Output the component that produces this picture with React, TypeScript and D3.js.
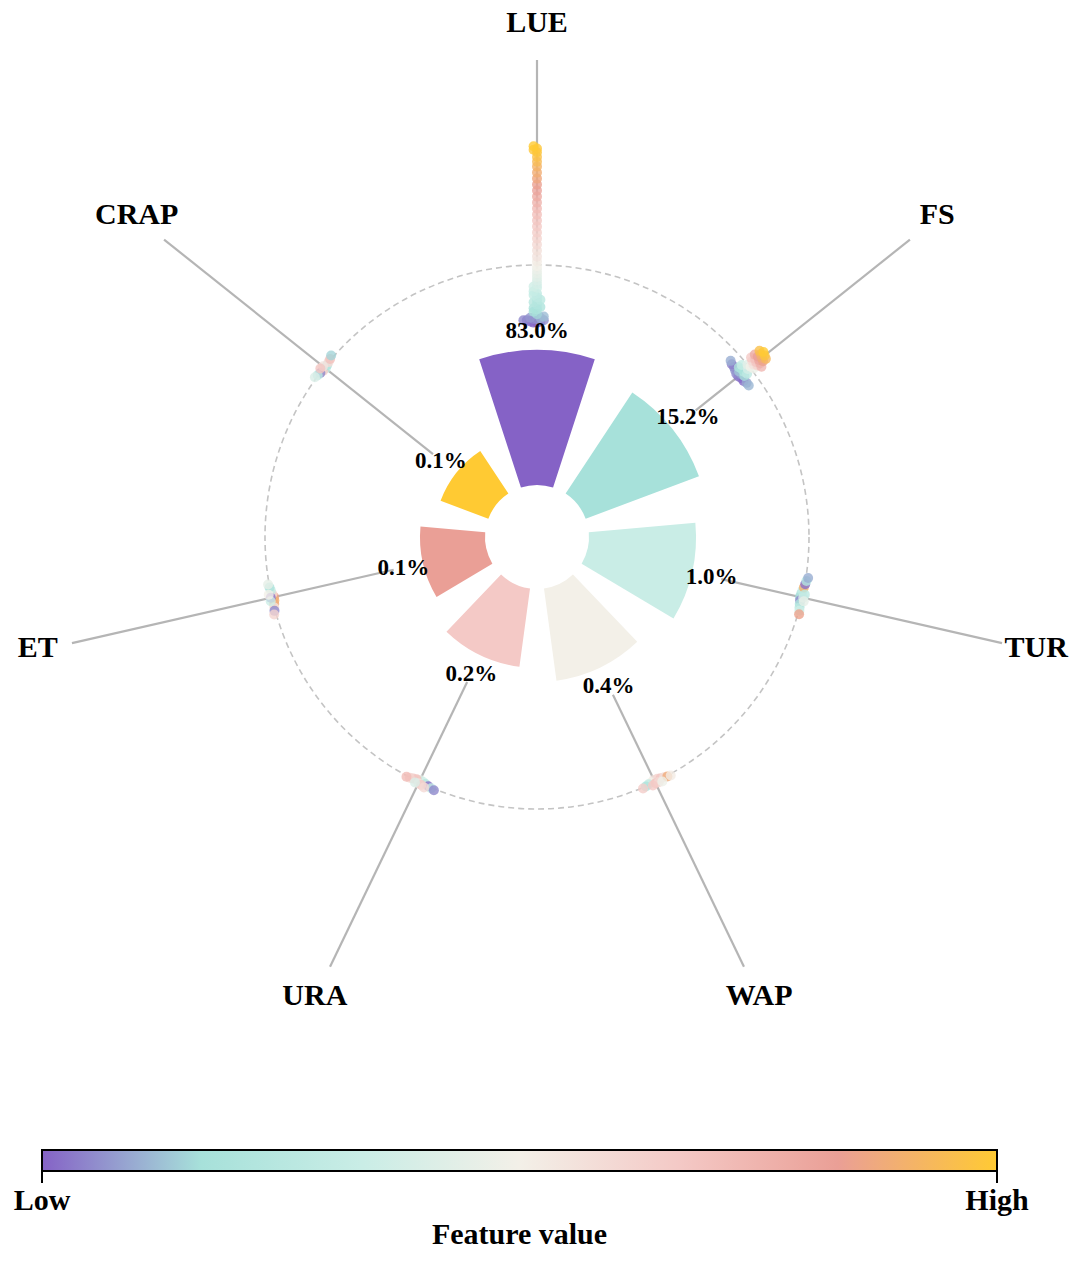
import * as d3 from 'd3';
import React, { useEffect, useRef } from 'react';

// features in importance order, clockwise from the top
const features = ['LUE', 'FS', 'TUR', 'WAP', 'URA', 'ET', 'CRAP'];
const importance = [83.0, 15.2, 1.0, 0.4, 0.2, 0.1, 0.1];
const palette = ['#8562c6', '#a7e1da', '#c9ede6', '#f3f0e8', '#f4c9c6', '#ea9f96', '#ffca33'];

// SHAP value, feature value (0 = low, 1 = high)
const shapLUE: [number, number][] = [
  [-0.48, 0.02], [-0.48, 0.0], [-0.47, 0.04], [-0.47, 0.01], [-0.46, 0.06], [-0.46, 0.03],
  [-0.46, 0.05], [-0.45, 0.08], [-0.45, 0.05], [-0.44, 0.1], [-0.44, 0.07], [-0.43, 0.12],
  [-0.41, 0.15], [-0.39, 0.17], [-0.37, 0.19], [-0.36, 0.18], [-0.35, 0.2], [-0.33, 0.22],
  [-0.31, 0.24], [-0.3, 0.23], [-0.29, 0.26], [-0.27, 0.28], [-0.25, 0.3], [-0.24, 0.29],
  [-0.22, 0.32], [-0.19, 0.35], [-0.18, 0.36], [-0.16, 0.38], [-0.13, 0.4], [-0.1, 0.43],
  [-0.07, 0.45], [-0.04, 0.47], [-0.01, 0.5], [0.03, 0.52], [0.07, 0.55], [0.12, 0.57],
  [0.17, 0.6], [0.22, 0.62], [0.27, 0.64], [0.32, 0.66], [0.37, 0.68], [0.42, 0.7],
  [0.47, 0.72], [0.52, 0.75], [0.57, 0.78], [0.62, 0.81], [0.67, 0.84], [0.72, 0.87],
  [0.77, 0.89], [0.82, 0.91], [0.86, 0.94], [0.9, 0.96], [0.94, 0.98], [0.96, 0.99],
  [0.97, 0.99], [0.99, 1.0],
];
const shapFS: [number, number][] = [
  [-0.12, 0.02], [-0.12, 0.05], [-0.11, 0.03], [-0.11, 0.07], [-0.11, 0.01], [-0.1, 0.06],
  [-0.1, 0.09], [-0.1, 0.04], [-0.1, 0.11], [-0.09, 0.08], [-0.09, 0.13], [-0.09, 0.1],
  [-0.08, 0.16], [-0.07, 0.2], [-0.06, 0.24], [-0.06, 0.18], [-0.05, 0.28], [-0.04, 0.32],
  [-0.02, 0.38], [0.0, 0.44], [0.01, 0.5], [0.02, 0.48], [0.04, 0.56], [0.05, 0.6],
  [0.06, 0.62], [0.06, 0.66], [0.07, 0.68], [0.08, 0.7], [0.08, 0.74], [0.09, 0.76],
  [0.1, 0.8], [0.1, 0.78], [0.11, 0.83], [0.12, 0.85], [0.13, 0.88], [0.14, 0.9],
  [0.15, 0.93], [0.15, 0.96], [0.16, 0.98], [0.17, 1.0],
];
const shapTUR: [number, number][] = [
  [-0.02, 0.15], [-0.015, 0.2], [-0.012, 0.05], [-0.01, 0.3], [-0.008, 0.18], [-0.005, 0.9],
  [-0.003, 0.25], [0, 0.02], [0.002, 0.35], [0.004, 0.22], [0.006, 0.85], [0.009, 0.4],
  [0.012, 0.1], [0.016, 0.28], [0.02, 0.45],
];
const shapWAP: [number, number][] = [
  [-0.02, 0.55], [-0.016, 0.62], [-0.012, 0.5], [-0.009, 0.68], [-0.006, 0.3], [-0.003, 0.58],
  [0, 0.2], [0.002, 0.88], [0.005, 0.65], [0.008, 0.52], [0.011, 0.7], [0.014, 0.6],
  [0.018, 0.66], [0.022, 0.48],
];
const shapURA: [number, number][] = [
  [-0.02, 0.45], [-0.016, 0.35], [-0.012, 0.7], [-0.009, 0.25], [-0.006, 0.68], [-0.003, 0.02],
  [0, 0.62], [0.002, 0.3], [0.005, 0.72], [0.008, 0.05], [0.011, 0.55], [0.014, 0.66],
  [0.018, 0.4], [0.022, 0.6],
];
const shapET: [number, number][] = [
  [-0.02, 0.85], [-0.015, 0.9], [-0.011, 0.6], [-0.008, 0.88], [-0.005, 0.3], [-0.002, 0.55],
  [0, 0.2], [0.003, 0.05], [0.006, 0.45], [0.009, 0.02], [0.012, 0.62], [0.016, 0.35],
  [0.02, 0.5],
];
const shapCRAP: [number, number][] = [
  [-0.015, 0.3], [-0.01, 0.65], [-0.006, 0.2], [-0.003, 0.05], [0, 0.6], [0.003, 0.25],
  [0.006, 0.7], [0.01, 0.4], [0.014, 0.55], [0.018, 0.15], [0.02, 0.68],
];
const shapByFeature = [shapLUE, shapFS, shapTUR, shapWAP, shapURA, shapET, shapCRAP];

const WIDTH = 1080;
const HEIGHT = 1263;
const FONT = '"Liberation Serif", "Times New Roman", serif';

type SwarmPoint = { s: number; f: number; y: number; x: number };

// simple beeswarm: stack points sideways until they stop colliding
const swarm = (pts: [number, number][], r: (v: number) => number, d: number) => {
  const sorted: SwarmPoint[] = pts
    .map(([s, f]) => ({ s, f, y: r(s), x: 0 }))
    .sort((a, b) => a.y - b.y);
  const placed: SwarmPoint[] = [];
  sorted.forEach(p => {
    for (let k = 0; k < 400; k++) {
      const x = (k % 2 === 0 ? 1 : -1) * Math.ceil(k / 2) * d;
      if (placed.every(q => Math.hypot(q.x - x, q.y - p.y) >= d)) {
        p.x = x;
        break;
      }
    }
    placed.push(p);
  });
  return placed;
};

const Chart: React.FC = () => {
  const ref = useRef<SVGSVGElement | null>(null);

  useEffect(() => {
    const svg = d3.select(ref.current);
    svg.selectAll('*').remove();

    const cx = 537;
    const cy = 537;
    const n = features.length;
    const slot = (2 * Math.PI) / n;
    const innerRadius = 52;
    const zeroRadius = 272;

    const angle = (i: number) => i * slot;
    const pos = (a: number, r: number, t = 0) => [
      cx + Math.sin(a) * r + Math.cos(a) * t,
      cy - Math.cos(a) * r + Math.sin(a) * t,
    ];

    const barRadius = d3.scaleLinear().domain([0, n - 1]).range([187, 103]);
    const shapRadius = d3.scaleLinear().domain([0, 1]).range([zeroRadius, zeroRadius + 120]);
    const color = d3
      .scaleLinear<string>()
      .domain(palette.map((_, i) => i / (palette.length - 1)))
      .range(palette)
      .interpolate(d3.interpolateRgb);

    const g = svg.append('g');

    // zero SHAP circle
    g.append('circle')
      .attr('cx', cx)
      .attr('cy', cy)
      .attr('r', zeroRadius)
      .attr('fill', 'none')
      .attr('stroke', '#c4c4c4')
      .attr('stroke-width', 1.6)
      .attr('stroke-dasharray', '6,4');

    // importance bars
    const arc = d3.arc<number>()
      .innerRadius(innerRadius)
      .outerRadius((_, i) => barRadius(i))
      .startAngle((_, i) => angle(i) - slot * 0.35)
      .endAngle((_, i) => angle(i) + slot * 0.35);

    importance.forEach((v, i) => {
      g.append('path')
        .attr('d', arc(v, i) as string)
        .attr('fill', palette[i])
        .attr('transform', `translate(${cx},${cy})`);
    });

    // axis spokes
    features.forEach((_, i) => {
      const [x1, y1] = pos(angle(i), barRadius(i) + 30);
      const [x2, y2] = pos(angle(i), 477);
      g.append('line')
        .attr('x1', x1)
        .attr('y1', y1)
        .attr('x2', x2)
        .attr('y2', y2)
        .attr('stroke', '#b5b5b5')
        .attr('stroke-width', 2.2);
    });

    // beeswarm dots
    shapByFeature.forEach((pts, i) => {
      const a = angle(i);
      swarm(pts, shapRadius, 3.4).forEach(p => {
        const [x, y] = pos(a, p.y, p.x);
        g.append('circle')
          .attr('cx', x)
          .attr('cy', y)
          .attr('r', 5)
          .attr('fill', color(p.f))
          .attr('fill-opacity', 0.8);
      });
    });

    // percent labels
    importance.forEach((v, i) => {
      const [x, y] = pos(angle(i), barRadius(i) + 20);
      g.append('text')
        .attr('x', x)
        .attr('y', y)
        .attr('text-anchor', 'middle')
        .attr('dominant-baseline', 'central')
        .attr('font-family', FONT)
        .attr('font-weight', 'bold')
        .attr('font-size', 23)
        .text(`${v.toFixed(1)}%`);
    });

    // feature names
    features.forEach((name, i) => {
      const [x, y] = pos(angle(i), 512);
      g.append('text')
        .attr('x', x)
        .attr('y', y - 4)
        .attr('text-anchor', 'middle')
        .attr('dominant-baseline', 'central')
        .attr('font-family', FONT)
        .attr('font-weight', 'bold')
        .attr('font-size', 30)
        .text(name);
    });

    // colour bar
    const barX = d3.scaleLinear().domain([0, 1]).range([42, 997]);
    const grad = svg
      .append('defs')
      .append('linearGradient')
      .attr('id', 'fv-grad')
      .attr('x1', '0%')
      .attr('x2', '100%');
    palette.forEach((c, i) => {
      grad
        .append('stop')
        .attr('offset', `${(i / (palette.length - 1)) * 100}%`)
        .attr('stop-color', c);
    });

    const cb = svg.append('g');
    cb.append('rect')
      .attr('x', barX(0))
      .attr('y', 1150)
      .attr('width', barX(1) - barX(0))
      .attr('height', 21)
      .attr('fill', 'url(#fv-grad)')
      .attr('stroke', '#000')
      .attr('stroke-width', 2);

    [0, 1].forEach(t => {
      cb.append('line')
        .attr('x1', barX(t))
        .attr('x2', barX(t))
        .attr('y1', 1171)
        .attr('y2', 1183)
        .attr('stroke', '#000')
        .attr('stroke-width', 2);
    });

    [['Low', 0], ['High', 1]].forEach(([label, t]) => {
      cb.append('text')
        .attr('x', barX(t as number))
        .attr('y', 1210)
        .attr('text-anchor', 'middle')
        .attr('font-family', FONT)
        .attr('font-weight', 'bold')
        .attr('font-size', 30)
        .text(label as string);
    });

    cb.append('text')
      .attr('x', barX(0.5))
      .attr('y', 1244)
      .attr('text-anchor', 'middle')
      .attr('font-family', FONT)
      .attr('font-weight', 'bold')
      .attr('font-size', 30)
      .text('Feature value');
  }, []);

  return (
    <svg
      ref={ref}
      width={WIDTH}
      height={HEIGHT}
      style={{ position: 'absolute', left: 0, top: 0, background: '#fff' }}
    />
  );
};

export default function App() {
  return <Chart />;
}
